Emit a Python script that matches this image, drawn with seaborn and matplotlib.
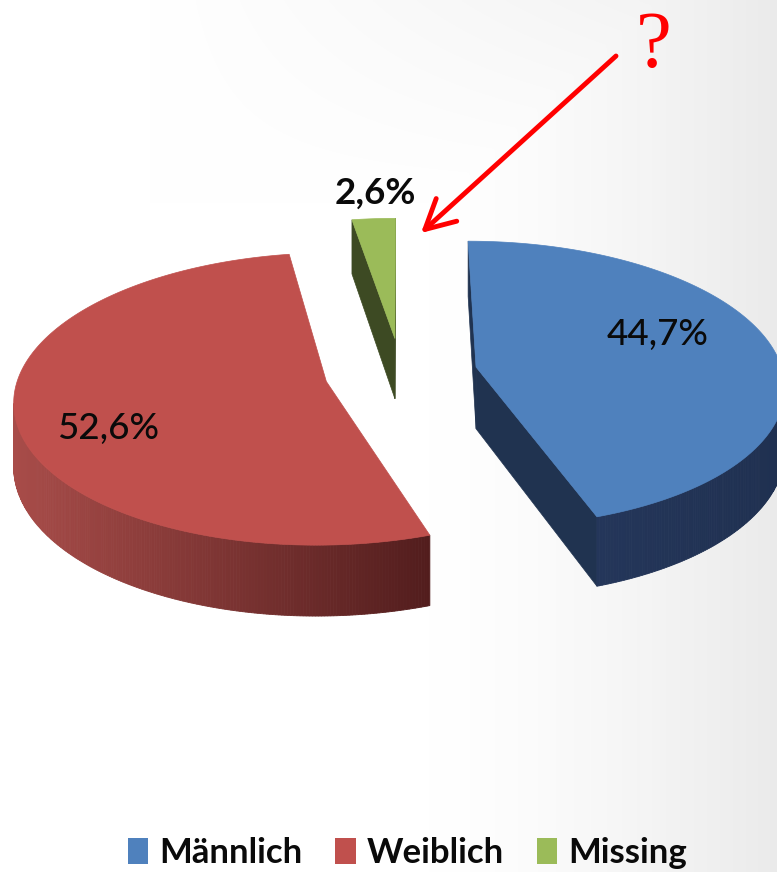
import numpy as np
import matplotlib
matplotlib.use("Agg")
import matplotlib.pyplot as plt
import seaborn as sns
from matplotlib.patches import Polygon, Patch
from matplotlib.colors import to_rgb

# ---- data -------------------------------------------------------------
categories = ["Männlich", "Weiblich", "Missing"]
shares = [44.7, 52.6, 2.6]
share_labels = ["44,7%", "52,6%", "2,6%"]

# ---- styling ----------------------------------------------------------
top_colors = ["#4F81BD", "#C0504D", "#9BBB59"]
side_left = ["#24365A", "#A84C49", "#46552A"]
side_right = ["#1F3050", "#521D1D", "#3B4722"]
face_colors = ["#203350", "#5A2020", "#3D4A23"]
label_xy = [(658, 334), (108, 428), (375, 193)]
label_bold = [False, False, True]

sns.set_theme(style="white")
plt.rcParams["font.family"] = ["Lato", "DejaVu Sans"]

W, H = 777, 872
fig = plt.figure(figsize=(W / 100, H / 100), dpi=100)
ax = fig.add_axes([0, 0, 1, 1])
ax.set_xlim(0, W)
ax.set_ylim(H, 0)
ax.axis("off")

# soft grey backdrop, darker towards the right edge and the top right
gx, gy = np.meshgrid(np.linspace(0, W, 200), np.linspace(0, H, 220))
fx = np.clip((gx - 430) / 347, 0, 1) ** 1.4
fy = np.clip((200 - gy) / 200, 0, 1) * np.clip((gx - 150) / 500, 0, 1)
shade = 1 - 0.08 * np.maximum(fx, 0.55 * fy)
ax.imshow(np.dstack([shade] * 3), extent=(0, W, H, 0), aspect="auto",
          interpolation="bilinear", zorder=0)

# ---- perspective 3D pie ----------------------------------------------
FOCAL = 2591.0
DIST = 8.44
CAM_H = 3.905
THICK = 0.202
VX, HORIZON = 401.0, -826.0
EXPLODE = 0.249
START = 90.0
cam = np.array([0.0, -DIST, CAM_H])


def project(X, Y, Z):
    depth = DIST + Y
    return VX + FOCAL * X / depth, HORIZON + FOCAL * (CAM_H - Z) / depth


def facing(normal, point):
    return np.dot(normal, cam - point) > 0


def mix(c0, c1, t):
    a, b = np.array(to_rgb(c0)), np.array(to_rgb(c1))
    return tuple(a + (b - a) * t)


fracs = np.array(shares) / np.sum(shares)
bounds = START - 360 * np.concatenate([[0], np.cumsum(fracs)])

wedges = []
for i in range(len(shares)):
    a0, a1 = bounds[i], bounds[i + 1]
    mid = np.radians((a0 + a1) / 2)
    cx, cy = EXPLODE * np.cos(mid), EXPLODE * np.sin(mid)
    wedges.append((cy, i, a0, a1, cx))

# paint from the back of the scene to the front
for cy, i, a0, a1, cx in sorted(wedges, key=lambda w: -w[0]):
    phis = np.radians(np.linspace(a0, a1, max(8, int(abs(a1 - a0) * 2))))
    z = 10 + (1 - cy)

    # radial cut faces
    for ang, sgn in ((a0, 1), (a1, -1)):
        r = np.radians(ang)
        nrm = np.array([np.cos(r + sgn * np.pi / 2), np.sin(r + sgn * np.pi / 2), 0])
        rim = np.array([cx + np.cos(r), cy + np.sin(r)])
        pmid = np.array([(cx + rim[0]) / 2, (cy + rim[1]) / 2, -THICK / 2])
        if facing(nrm, pmid):
            pts = [project(cx, cy, 0), project(rim[0], rim[1], 0),
                   project(rim[0], rim[1], -THICK), project(cx, cy, -THICK)]
            ax.add_patch(Polygon(pts, closed=True, facecolor=face_colors[i],
                                 edgecolor=face_colors[i], lw=0.5, zorder=z))

    # outer rim, shaded left to right
    segs = []
    for p0, p1 in zip(phis[:-1], phis[1:]):
        pm = (p0 + p1) / 2
        nrm = np.array([np.cos(pm), np.sin(pm), 0])
        pt = np.array([cx + np.cos(pm), cy + np.sin(pm), -THICK / 2])
        if facing(nrm, pt):
            segs.append((p0, p1))
    if segs:
        xs = [project(cx + np.cos(p), cy + np.sin(p), 0)[0] for s in segs for p in s]
        xmin, xmax = min(xs), max(xs)
        for p0, p1 in segs:
            pts = [project(cx + np.cos(p0), cy + np.sin(p0), 0),
                   project(cx + np.cos(p1), cy + np.sin(p1), 0),
                   project(cx + np.cos(p1), cy + np.sin(p1), -THICK),
                   project(cx + np.cos(p0), cy + np.sin(p0), -THICK)]
            xm = (pts[0][0] + pts[1][0]) / 2
            t = (xm - xmin) / max(xmax - xmin, 1)
            col = mix(side_left[i], side_right[i], t)
            ax.add_patch(Polygon(pts, closed=True, facecolor=col,
                                 edgecolor=col, lw=0.6, zorder=z + 0.1))

    # top surface
    top = [project(cx, cy, 0)] + [project(cx + np.cos(p), cy + np.sin(p), 0) for p in phis]
    ax.add_patch(Polygon(top, closed=True, facecolor=top_colors[i],
                         edgecolor=top_colors[i], lw=0.5, zorder=z + 0.2))

# value labels
for i, txt in enumerate(share_labels):
    ax.text(label_xy[i][0], label_xy[i][1], txt, ha="center", va="center",
            fontsize=26.5, color="#0a0a0a",
            fontweight="bold" if label_bold[i] else "medium", zorder=30)

# red question arrow
ax.annotate("", xy=(421, 233), xytext=(616, 56),
            arrowprops=dict(arrowstyle="->,head_length=2.1,head_width=1.1",
                            color="#FF0000", lw=3.5, mutation_scale=10,
                            shrinkA=0, shrinkB=0), zorder=31)
ax.text(654, 67, "?", ha="center", va="baseline", fontsize=58,
        color="#FF0000", family=["Liberation Serif", "DejaVu Serif"], zorder=31)

# legend
handles = [Patch(facecolor=c, edgecolor="none", label=l)
           for c, l in zip(top_colors, categories)]
fig.legend(handles=handles, loc="center", bbox_to_anchor=(0.524, 19 / H),
           ncol=3, frameon=False, prop=dict(family="Lato", weight="bold", size=25),
           handlelength=0.6, handleheight=0.75, handletextpad=0.3,
           columnspacing=0.95, labelcolor="#0a0a0a")

fig.savefig("out.png", dpi=100)
